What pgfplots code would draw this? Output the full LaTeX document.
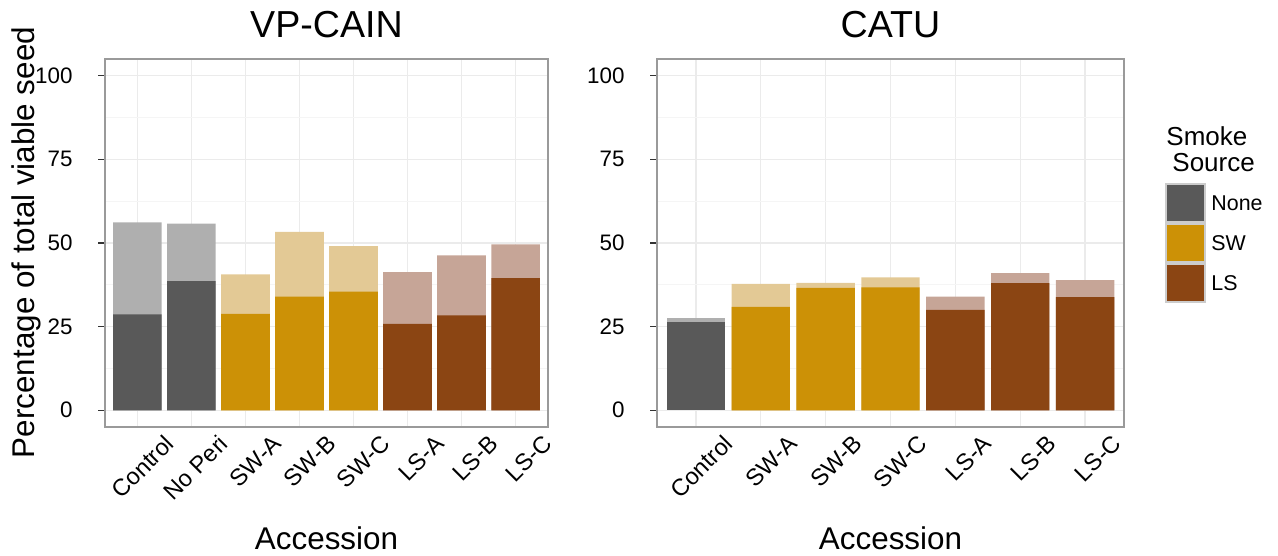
\documentclass[border=0pt]{standalone}
\usepackage{pgfplots}
\pgfplotsset{compat=1.18}
\usepackage{fontspec}
\setmainfont{Liberation Sans}

% fills: dark = viable seed in the lower part, light = total viable seed
\definecolor{noneDark}{HTML}{595959}
\definecolor{noneLight}{HTML}{AFAFAF}
\definecolor{swDark}{HTML}{CC9106}
\definecolor{swLight}{HTML}{E3C995}
\definecolor{lsDark}{HTML}{8B4513}
\definecolor{lsLight}{HTML}{C6A597}
\definecolor{gridMajor}{HTML}{EBEBEB}
\definecolor{gridMinor}{HTML}{F5F5F5}
\definecolor{frameGray}{HTML}{9A9A9A}
\definecolor{keyBorder}{HTML}{CCCCCC}

\pgfplotsset{
  panel/.style={
    scale only axis,
    anchor=south west,
    height=184pt,
    ymin=-5, ymax=105,
    xmin=0.4,
    ytick={0,25,50,75,100},
    minor ytick={12.5,37.5,62.5,87.5},
    xmajorgrids, ymajorgrids, yminorgrids,
    major grid style={color=gridMajor, line width=0.6pt},
    minor grid style={color=gridMinor, line width=0.5pt},
    axis line style={color=frameGray, line width=0.6pt},
    tick align=outside,
    ytick pos=left,
    major tick length=3.5pt,
    minor tick length=0pt,
    ytick style={color=black!80, line width=0.6pt},
    xtick style={draw=none},
    yticklabel style={font=\fontsize{11.2}{13}\selectfont, text=black,
      anchor=east, inner sep=0pt, xshift=-12.5pt},
    xticklabel style={font=\fontsize{11.8}{14}\selectfont, text=black,
      xshift=13pt, yshift=0.5pt, rotate=45, anchor=north east, inner sep=0pt},
    /pgf/number format/assume math mode=true,
  },
  total/.style={ybar, bar width=0.9, bar shift=0pt, draw=none, fill=#1},
}

\begin{document}
\begin{tikzpicture}
\useasboundingbox (0,0) rectangle (639pt,278pt);

% ---- VP-CAIN ----
\begin{axis}[panel, at={(52.5pt,64.5pt)}, width=221.5pt, xmax=8.6,
  xtick={1,...,8},
  xticklabels={Control,No Peri,SW-A,SW-B,SW-C,LS-A,LS-B,LS-C}]
  % totals
  \addplot[total=noneLight] coordinates {(1,56.2) (2,55.8)};
  \addplot[total=swLight]   coordinates {(3,40.6) (4,53.3) (5,49.1)};
  \addplot[total=lsLight]   coordinates {(6,41.3) (7,46.3) (8,49.6)};
  % lower part
  \addplot[total=noneDark] coordinates {(1,28.7) (2,38.6)};
  \addplot[total=swDark]   coordinates {(3,28.8) (4,34.0) (5,35.5)};
  \addplot[total=lsDark]   coordinates {(6,25.8) (7,28.4) (8,39.5)};
\end{axis}

% ---- CATU ----
\begin{axis}[panel, at={(328.5pt,64.5pt)}, width=233.5pt, xmax=7.6,
  xtick={1,...,7},
  xticklabels={Control,SW-A,SW-B,SW-C,LS-A,LS-B,LS-C}]
  \addplot[total=noneLight] coordinates {(1,27.5)};
  \addplot[total=swLight]   coordinates {(2,37.8) (3,38.1) (4,39.7)};
  \addplot[total=lsLight]   coordinates {(5,34.0) (6,41.0) (7,38.9)};
  \addplot[total=noneDark] coordinates {(1,26.5)};
  \addplot[total=swDark]   coordinates {(2,30.9) (3,36.6) (4,36.7)};
  \addplot[total=lsDark]   coordinates {(5,30.0) (6,38.0) (7,33.8)};
\end{axis}

% titles and axis labels
\node[anchor=base, font=\fontsize{18.8}{22}\selectfont] at (163.25pt,259.4pt) {VP-CAIN};
\node[anchor=base, font=\fontsize{18.8}{22}\selectfont] at (445.25pt,259.4pt) {CATU};
\node[anchor=base, font=\fontsize{15.7}{18}\selectfont] at (163.25pt,3pt) {Accession};
\node[anchor=base, font=\fontsize{15.7}{18}\selectfont] at (445.25pt,3pt) {Accession};
\node[anchor=base, rotate=90, font=\fontsize{15.7}{18}\selectfont] at (17.5pt,156.75pt) {Percentage of total viable seed};

% legend
\node[anchor=base west, inner sep=0pt, font=\fontsize{13}{15}\selectfont] at (583pt,205pt) {Smoke};
\node[anchor=base west, inner sep=0pt, font=\fontsize{13}{15}\selectfont] at (586pt,192.2pt) {Source};
\fill[keyBorder] (582.5pt,126.5pt) rectangle (603pt,186.5pt);
\fill[noneDark] (583.5pt,167.5pt) rectangle (602pt,185.5pt);
\fill[swDark]   (583.5pt,147.5pt) rectangle (602pt,165.5pt);
\fill[lsDark]   (583.5pt,127.5pt) rectangle (602pt,145.5pt);
\node[anchor=west, inner sep=0pt, font=\fontsize{10.7}{13}\selectfont] at (605.5pt,176.5pt) {None};
\node[anchor=west, inner sep=0pt, font=\fontsize{10.7}{13}\selectfont] at (605.5pt,156.5pt) {SW};
\node[anchor=west, inner sep=0pt, font=\fontsize{10.7}{13}\selectfont] at (605.5pt,136.5pt) {LS};
\end{tikzpicture}
\end{document}
